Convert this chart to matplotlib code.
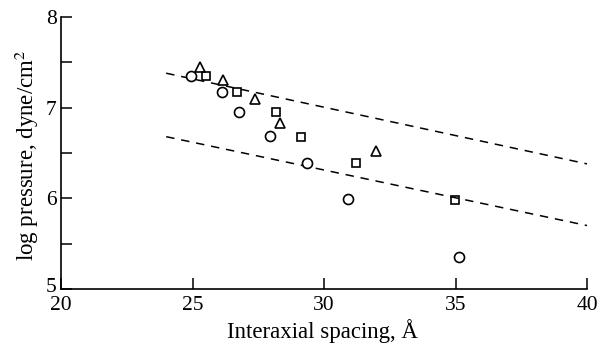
import matplotlib
matplotlib.use("Agg")
import matplotlib.pyplot as plt
import matplotlib.transforms as mtransforms
from matplotlib.ticker import MultipleLocator

plt.rcParams['font.family'] = ['Liberation Serif', 'DejaVu Serif']
plt.rcParams['mathtext.fontset'] = 'stix'

# Data
circle_x = [24.93, 26.11, 26.78, 27.95, 29.34, 30.90, 35.13]
circle_y = [7.35, 7.17, 6.95, 6.69, 6.39, 5.99, 5.35]

square_x = [25.51, 26.68, 28.16, 29.13, 31.21, 34.98]
square_y = [7.35, 7.17, 6.95, 6.68, 6.39, 5.98]

triangle_x = [25.29, 26.15, 27.38, 28.33, 31.98]
triangle_y = [7.45, 7.31, 7.10, 6.83, 6.52]

upper_x = [24, 40]
upper_y = [7.38, 6.38]
lower_x = [24, 40]
lower_y = [6.68, 5.70]

x_ticks = [20, 25, 30, 35, 40]
y_ticks = [5, 6, 7, 8]

fig = plt.figure(figsize=(6.01, 3.44), dpi=100)
ax = fig.add_axes([61/601, 1-289/344, (587-61)/601, (289-17)/344])

ax.plot(upper_x, upper_y, color='black', lw=1.1, linestyle=(0, (5.5, 4.5)))
ax.plot(lower_x, lower_y, color='black', lw=1.1, linestyle=(0, (5.5, 4.5)))

ax.plot(circle_x, circle_y, linestyle='none', marker='o', ms=7.2, mfc='white', mec='black', mew=1.2)
ax.plot(square_x, square_y, linestyle='none', marker='s', ms=6.3, mfc='none', mec='black', mew=1.2)
ax.plot(triangle_x, triangle_y, linestyle='none', marker='^', ms=7.2, mfc='none', mec='black', mew=1.2)

ax.set_xlim(20, 40)
ax.set_ylim(5, 8)
ax.set_xticks(x_ticks)
ax.set_yticks(y_ticks)
ax.yaxis.set_minor_locator(MultipleLocator(0.5))
ax.tick_params(which='both', direction='in', length=8, width=1.1, labelsize=15.5)
ax.tick_params(axis='x', which='both', pad=5)
ax.tick_params(axis='y', which='both', pad=3)

for s in ['top', 'right']:
    ax.spines[s].set_visible(False)
for s in ['left', 'bottom']:
    ax.spines[s].set_linewidth(1.2)

ax.set_xlabel('Interaxial spacing, Å', fontsize=16.5)
ax.set_ylabel('log pressure, dyne/cm$^{2}$', fontsize=16.5)
ax.xaxis.set_label_coords((322.5-61)/526, -0.11)
ax.yaxis.set_label_coords(-0.065, 0.49)
ax.xaxis.label.set_va('top')
ax.yaxis.label.set_va('center')

# lift the lowest y tick label a little, as in the reference
fig.canvas.draw()
for lab in ax.get_yticklabels():
    if lab.get_text() == '5':
        lab.set_transform(lab.get_transform() + mtransforms.ScaledTranslation(0, 4/100, fig.dpi_scale_trans))

fig.savefig('out.png', dpi=100)
